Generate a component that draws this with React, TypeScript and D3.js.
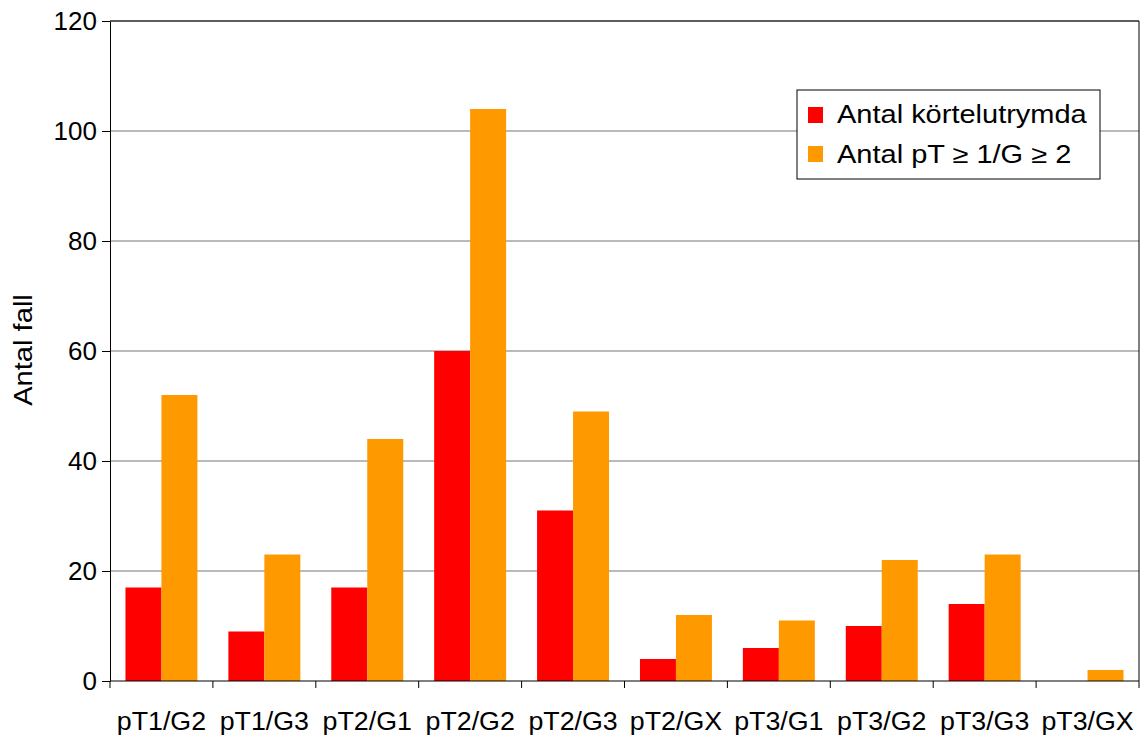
import React, { useEffect, useRef } from 'react';
import * as d3 from 'd3';

const categories = ['pT1/G2', 'pT1/G3', 'pT2/G1', 'pT2/G2', 'pT2/G3', 'pT2/GX', 'pT3/G1', 'pT3/G2', 'pT3/G3', 'pT3/GX'];
const seriesNames = ['Antal körtelutrymda', 'Antal pT ≥ 1/G ≥ 2'];
const kortelutrymda = [17, 9, 17, 60, 31, 4, 6, 10, 14, 0];
const pTG = [52, 23, 44, 104, 49, 12, 11, 22, 23, 2];
const yTicks = [0, 20, 40, 60, 80, 100, 120];
const colors = ['#ff0000', '#ff9900'];

const W = 1144;
const H = 735;
const FONT = '"Liberation Sans", Arial, sans-serif';

const App: React.FC = () => {
  const svgRef = useRef<SVGSVGElement>(null);

  useEffect(() => {
    if (!svgRef.current) return;
    const margin = { top: 21, right: 5, bottom: 54, left: 110 };
    const width = W - margin.left - margin.right;
    const height = H - margin.top - margin.bottom;

    const svg = d3.select(svgRef.current);
    svg.selectAll('*').remove();

    const g = svg.append('g').attr('transform', `translate(${margin.left},${margin.top})`);

    const x0 = d3.scaleBand<string>().domain(categories).range([0, width]);
    const x1 = d3.scaleBand<string>().domain(seriesNames).range([0, x0.bandwidth()]).paddingOuter(0.43);
    const y = d3.scaleLinear().domain([0, 120]).range([height, 0]);

    // gridlines
    g.selectAll('.grid')
      .data(yTicks.filter(t => t > 0))
      .enter()
      .append('line')
      .attr('x1', 0)
      .attr('x2', width)
      .attr('y1', d => y(d))
      .attr('y2', d => y(d))
      .attr('stroke', '#777')
      .attr('stroke-width', 1.2);

    // bars
    const rows = categories.map((c, i) => ({ cat: c, vals: [kortelutrymda[i], pTG[i]] }));
    const grp = g.selectAll('.grp')
      .data(rows)
      .enter()
      .append('g')
      .attr('transform', d => `translate(${x0(d.cat)},0)`);

    grp.selectAll('rect')
      .data(d => d.vals.map((v, k) => ({ v, k })))
      .enter()
      .append('rect')
      .attr('x', d => x1(seriesNames[d.k]) as number)
      .attr('width', x1.bandwidth())
      .attr('y', d => y(d.v))
      .attr('height', d => height - y(d.v))
      .attr('fill', d => colors[d.k]);

    // frame top/right
    g.append('line').attr('x1', 0).attr('x2', width).attr('y1', 0).attr('y2', 0).attr('stroke', '#000');
    g.append('line').attr('x1', width).attr('x2', width).attr('y1', 0).attr('y2', height).attr('stroke', '#000');

    // Y axis
    const yAxis = g.append('g')
      .call(d3.axisLeft(y).tickValues(yTicks).tickSize(8).tickPadding(5).tickSizeOuter(0));
    yAxis.select('.domain').attr('stroke', '#000');
    yAxis.selectAll('.tick line').attr('stroke', '#000');
    yAxis.selectAll('text')
      .attr('font-family', FONT)
      .attr('font-size', 26)
      .attr('fill', '#000');

    // X axis: ticks on category boundaries
    const xAxis = g.append('g').attr('transform', `translate(0,${height})`);
    xAxis.append('line').attr('x1', 0).attr('x2', width).attr('stroke', '#000');
    const bounds = [...categories.map(c => x0(c) as number), width];
    xAxis.selectAll('.xt')
      .data(bounds)
      .enter()
      .append('line')
      .attr('x1', d => d)
      .attr('x2', d => d)
      .attr('y1', 0)
      .attr('y2', 7)
      .attr('stroke', '#000');
    xAxis.selectAll('.xl')
      .data(categories)
      .enter()
      .append('text')
      .attr('transform', d => `translate(${(x0(d) as number) + x0.bandwidth() / 2},49) scale(1.03,1)`)
      .attr('text-anchor', 'middle')
      .attr('font-family', FONT)
      .attr('font-size', 26)
      .attr('fill', '#000')
      .text(d => d);

    // Y title
    svg.append('text')
      .attr('transform', `translate(32,350) rotate(-90) scale(1.12,1)`)
      .attr('text-anchor', 'middle')
      .attr('font-family', FONT)
      .attr('font-size', 26)
      .attr('fill', '#000')
      .text('Antal fall');

    // legend
    const lg = svg.append('g').attr('transform', 'translate(797,90)');
    lg.append('rect')
      .attr('width', 303)
      .attr('height', 89)
      .attr('fill', '#fff')
      .attr('stroke', '#000')
      .attr('stroke-width', 1);
    seriesNames.forEach((name, i) => {
      lg.append('rect')
        .attr('x', 11)
        .attr('y', 17 + i * 39)
        .attr('width', 15)
        .attr('height', 16)
        .attr('fill', colors[i]);
      lg.append('text')
        .attr('transform', `translate(40,${33 + i * 40}) scale(1.16,1)`)
        .attr('font-family', FONT)
        .attr('font-size', 25)
        .attr('fill', '#000')
        .text(name);
    });
  }, []);

  return (
    <svg
      ref={svgRef}
      width={W}
      height={H}
      style={{ position: 'absolute', left: 0, top: 0, background: '#fff' }}
    />
  );
};

export default App;
